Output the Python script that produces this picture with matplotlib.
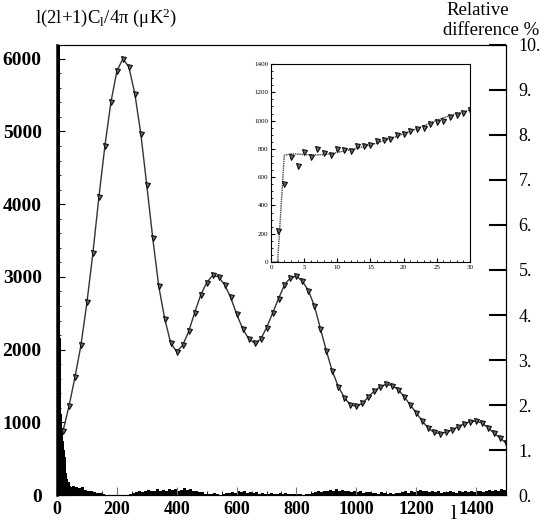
import numpy as np
import matplotlib
matplotlib.use("Agg")
import matplotlib.pyplot as plt
from matplotlib.ticker import MultipleLocator, FixedLocator

plt.rcParams['font.family'] = ['Liberation Serif', 'DejaVu Serif']
plt.rcParams['mathtext.default'] = 'regular'

# power spectrum, points every 20 in l
ell = np.arange(20, 1501, 20)
cl = [880, 1220, 1620, 2060, 2650, 3330, 4100, 4800, 5400, 5830,
      6000, 5890, 5520, 4970, 4260, 3530, 2870, 2420, 2090, 1970,
      2060, 2250, 2510, 2750, 2920, 3020, 3000, 2890, 2720, 2490,
      2290, 2150, 2090, 2140, 2300, 2500, 2700, 2890, 2990, 3010,
      2940, 2810, 2600, 2290, 1980, 1700, 1490, 1340, 1240, 1220,
      1260, 1350, 1430, 1490, 1525, 1505, 1450, 1350, 1240, 1130,
      1020, 920, 860, 845, 865, 895, 940, 980, 1010, 1015,
      990, 925, 850, 785, 715]

# low-l inset: theory line and measured points
ell_lo = np.arange(0, 31)
cl_theory_lo = [0, 0, 755, 765, 763, 760, 758, 758, 760, 765,
                775, 785, 795, 805, 815, 828, 842, 858, 873, 890,
                907, 925, 943, 962, 982, 1002, 1020, 1035, 1050, 1062, 1075]
ell_pts_lo = np.arange(1, 31)
cl_pts_lo = [217, 550, 744, 680, 779, 744, 796, 772, 755, 796,
             791, 786, 822, 822, 826, 857, 862, 869, 895, 904,
             925, 937, 951, 975, 987, 996, 1027, 1039, 1055, 1074]

# relative difference (%), per l for l<50, then 10-wide bins
rd_ell_fine = np.arange(0, 50)
rd_fine = [40, 35, 25, 20, 18, 15, 14, 12, 11, 10.5,
           4.2, 3.5, 4.0, 2.4, 2.2, 1.8, 2.4, 1.6, 1.5, 1.3,
           1.5, 1.2, 1.4, 1.1, 1.3, 1.0, 0.9, 0.8, 0.85, 0.6,
           0.7, 0.5, 0.45, 0.5, 0.4, 0.35, 0.3, 0.35, 0.28, 0.3,
           0.25, 0.28, 0.22, 0.2, 0.25, 0.2, 0.18, 0.22, 0.17, 0.2]
rd_ell_coarse = np.arange(50, 1500, 10)
rd_coarse = [0.2, 0.18, 0.15, 0.17, 0.12,
             0.1, 0.08, 0.06, 0.05, 0.04,
             0.02, 0.01, 0.01, 0.0, 0.01, 0.0, 0.01, 0.0, 0.01, 0.02,
             0.05, 0.06, 0.08, 0.07, 0.09, 0.11, 0.08, 0.1, 0.13, 0.09,
             0.12, 0.1, 0.14, 0.11, 0.13, 0.1, 0.12, 0.15, 0.11, 0.13,
             0.09, 0.1, 0.07, 0.06, 0.03,
             0.03, 0.02, 0.04, 0.02, 0.01,
             0.03, 0.05, 0.04, 0.07, 0.05, 0.09, 0.06, 0.08, 0.05, 0.07,
             0.04, 0.06, 0.03, 0.04, 0.02, 0.03, 0.04, 0.02, 0.03, 0.05,
             0.03, 0.04, 0.02, 0.03, 0.02,
             0.02, 0.03, 0.01, 0.02, 0.02,
             0.04, 0.06, 0.08, 0.07, 0.1, 0.09, 0.12, 0.1, 0.14, 0.09,
             0.11, 0.08, 0.1, 0.07, 0.09, 0.06, 0.08, 0.05, 0.07, 0.06,
             0.04, 0.05, 0.03, 0.06, 0.04, 0.03, 0.05, 0.02, 0.04, 0.05,
             0.06, 0.08, 0.05, 0.1, 0.07, 0.09, 0.12, 0.08, 0.1, 0.07,
             0.09, 0.06, 0.08, 0.05, 0.07, 0.06, 0.09, 0.07, 0.05, 0.08,
             0.06, 0.1, 0.07, 0.09, 0.06, 0.08, 0.1, 0.07, 0.09, 0.11,
             0.08, 0.12, 0.1, 0.14, 0.12]
rd_ticks = list(range(11))

fig = plt.figure(figsize=(5.55, 5.23), dpi=100)
ax = fig.add_axes([0.1027, 0.0535, 0.809, 0.8605])
ax2 = ax.twinx()

# relative difference histogram (right axis)
ax2.bar(rd_ell_fine, rd_fine, width=1.0, align='edge', color='black', lw=0)
ax2.bar(rd_ell_coarse, rd_coarse, width=10.0, align='edge', color='black', lw=0)
ax2.set_ylim(0, 10)
ax2.yaxis.set_major_locator(FixedLocator(rd_ticks))
ax2.set_yticklabels(['%d.' % v for v in rd_ticks])
ax2.tick_params(axis='y', direction='in', length=12, width=1.5, labelsize=13, pad=9)

# spectrum (left axis) drawn on top
ax.set_zorder(ax2.get_zorder() + 1)
ax.patch.set_visible(False)
ax.plot(ell, cl, color='#333333', lw=1.0, marker='v', ms=3.6,
        mfc='#666666', mec='black', mew=0.7)
ax.set_xlim(0, 1500)
ax.set_ylim(0, 6190)
ax.xaxis.set_major_locator(MultipleLocator(200))
ax.xaxis.set_minor_locator(MultipleLocator(50))
ax.yaxis.set_major_locator(MultipleLocator(1000))
ax.yaxis.set_minor_locator(MultipleLocator(200))
ax.tick_params(which='both', direction='in', labelsize=14)
ax.tick_params(which='major', length=6)
ax.tick_params(which='minor', length=3)
ax.tick_params(axis='y', pad=11)
ax.tick_params(axis='x', colors='#777777', labelcolor='black', labelsize=13, pad=4)
for lab in ax.get_xticklabels() + ax.get_yticklabels():
    lab.set_fontweight('bold')
ax.spines['left'].set_linewidth(1.8)

fig.text(0.063, 0.966, r'l(2l+1)C$_{l}$/4$\pi$ ($\mu$K$^{2}$)', fontsize=13.5,
         ha='left', va='center')
fig.text(0.805, 0.979, 'Relative', fontsize=13.5, ha='left', va='center')
fig.text(0.798, 0.942, 'difference %', fontsize=13.5, ha='left', va='center')
fig.text(0.817, 0.016, 'l', fontsize=16, ha='center', va='center')

# inset
axi = fig.add_axes([0.4883, 0.499, 0.3585, 0.3786])
axi.plot(ell_lo, cl_theory_lo, color='#444444', lw=1.0, ls=(0, (1, 0.6)))
axi.plot(ell_pts_lo, cl_pts_lo, ls='none', marker='v', ms=3.6,
         mfc='#666666', mec='black', mew=0.7)
axi.set_xlim(0, 30)
axi.set_ylim(0, 1400)
axi.xaxis.set_major_locator(MultipleLocator(5))
axi.xaxis.set_minor_locator(MultipleLocator(1))
axi.yaxis.set_major_locator(MultipleLocator(200))
axi.yaxis.set_minor_locator(MultipleLocator(50))
axi.tick_params(which='both', direction='in', labelsize=5, pad=2)
axi.tick_params(which='major', length=3)
axi.tick_params(which='minor', length=1.5)

fig.savefig('out.png', dpi=100)
